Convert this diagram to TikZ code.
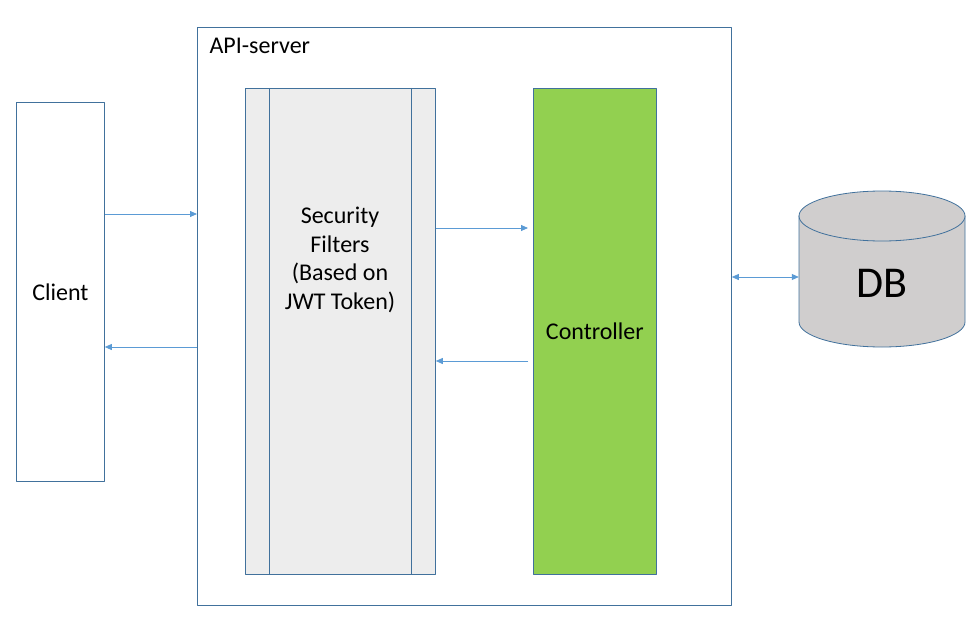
\documentclass[tikz,border=0pt]{standalone}
\usepackage{fontspec}
\setmainfont{Carlito}
\usetikzlibrary{arrows.meta}
\definecolor{edgeblue}{HTML}{41719C}
\definecolor{arrowblue}{HTML}{5B9BD5}
\definecolor{filtergray}{HTML}{EDEDED}
\definecolor{ctrlgreen}{HTML}{92D050}
\definecolor{dbgray}{HTML}{D0CECE}
\begin{document}
\begin{tikzpicture}[x=1pt, y=-1pt, font=\fontsize{24}{28.5}\selectfont, line join=round,
  >={Triangle[length=7pt,width=6pt]},
  box/.style={draw=edgeblue, line width=0.8pt, inner sep=0pt, anchor=north west},
  flow/.style={->, draw=arrowblue, fill=arrowblue, line width=0.8pt}]
\useasboundingbox (0,0) rectangle (979,623);
% boxes
\node[box, minimum width=534, minimum height=578] (api) at (197,27) {};
\node[box, minimum width=88, minimum height=379] (client) at (16,102) {};
\node[box, fill=filtergray, minimum width=190, minimum height=486] (filters) at (245,88) {};
\node[box, fill=ctrlgreen, minimum width=123, minimum height=486] (controller) at (533,88) {};
\draw[edgeblue, line width=0.8pt] ([xshift=24pt]filters.north west) -- ([xshift=24pt]filters.south west)
  ([xshift=-24pt]filters.north east) -- ([xshift=-24pt]filters.south east);
% database
\draw[edgeblue, line width=0.8pt, fill=dbgray] (799,216) -- (799,322)
  arc[start angle=180, end angle=360, x radius=83pt, y radius=25pt] -- (965,216) -- cycle;
\draw[edgeblue, line width=0.8pt, fill=dbgray] (882,216) ellipse[x radius=83pt, y radius=25pt];
\node[minimum width=166, minimum height=156, inner sep=0pt] (db) at (882,269) {};
% labels
\node[anchor=base west] (apilabel) at (206,54) {API-server};
\node (clientlabel) at (client) {Client};
\node[align=center] (filterlabel) at (340,260) {Security\\Filters\\(Based on\\JWT Token)};
\node (ctrllabel) at (controller) {Controller};
\node (dblabel) at (882,283) {\fontsize{44}{50}\selectfont DB};
% connectors
\foreach \s/\t/\y/\a/\b in {client.east/api.west/214/0/0, api.west/client.east/347/0/0,
  filters.east/controller.west/228/0/5, controller.west/filters.east/361/5/0}
  \draw[flow, shorten <=\a pt, shorten >=\b pt] (\s |- 0,\y) -- (\t |- 0,\y);
\draw[flow, <->] (api.east |- 0,277) -- (db.west |- 0,277);
\end{tikzpicture}
\end{document}
